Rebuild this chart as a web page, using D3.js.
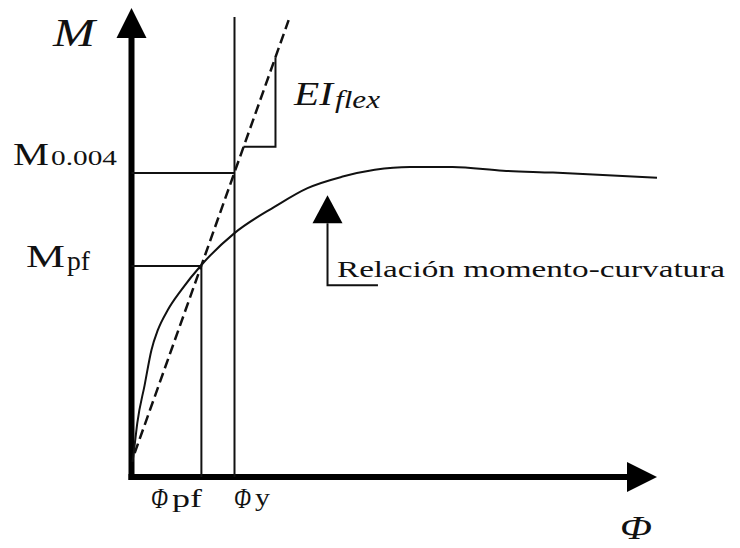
<!DOCTYPE html>
<html lang="es">
<head>
<meta charset="UTF-8">
<title>Relación momento-curvatura</title>
<style>
  body { margin: 0; background: #fff; }
  svg { display: block; }
</style>
</head>
<body>
<svg width="740" height="548"></svg>
<script src="https://cdn.jsdelivr.net/npm/d3@7"></script>
<script>
// curvatura (Φ) y momento (M) en unidades relativas 0..100
var curvePhi = [0.2, 0.6, 1.1, 2.5, 3.8, 5.0, 6.9, 9.5, 13.3, 19.6, 27.2, 33.5, 40.0, 46.3, 53.0, 61.1, 70.7, 80.2, 89.7, 100];
var curveM   = [3.2, 6.8, 11.5, 19.6, 27.1, 31.3, 35.6, 39.9, 45.2, 52.0, 57.6, 61.6, 64.0, 65.5, 66.1, 66.1, 65.3, 64.9, 64.4, 63.8];

var phiPf = 13.3, phiY = 19.6;
var mPf = 45.0, m004 = 64.8;
var phiYTop = 98.1;

// rigidez EIflex (recta secante)
var eiPhi = [0.6, 29.9];
var eiM   = [5.1, 97.4];

// triangulo de pendiente
var triPhi = [21.3, 27.4, 27.4];
var triM   = [70.4, 70.4, 89.5];

// flecha de la etiqueta
var notePhi = [37.3, 37.3, 46.9];
var noteM   = [60.1, 40.9, 40.9];

var svg = d3.select("svg");

var x = d3.scaleLinear().domain([0, 100]).range([131.5, 657]);
var y = d3.scaleLinear().domain([0, 100]).range([477, 8]);

var line = d3.line().x(function (d) { return x(d[0]); }).y(function (d) { return y(d[1]); });

// ejes
svg.append("line")
    .attr("x1", x(0)).attr("y1", y(0) + 3)
    .attr("x2", x(0)).attr("y2", y(100) + 28)
    .attr("stroke", "#000").attr("stroke-width", 6);
svg.append("path")
    .attr("d", "M" + x(0) + "," + y(100) + " L" + (x(0) - 15) + "," + (y(100) + 30) + " L" + (x(0) + 15) + "," + (y(100) + 30) + " Z")
    .attr("fill", "#000");

svg.append("line")
    .attr("x1", x(0) - 3).attr("y1", y(0))
    .attr("x2", x(100) - 28).attr("y2", y(0))
    .attr("stroke", "#000").attr("stroke-width", 6);
svg.append("path")
    .attr("d", "M" + x(100) + "," + y(0) + " L" + (x(100) - 30) + "," + (y(0) - 15) + " L" + (x(100) - 30) + "," + (y(0) + 15) + " Z")
    .attr("fill", "#000");

// lineas de referencia
var guides = [
    [[0, m004], [phiY, m004]],
    [[0, mPf], [phiPf, mPf]],
    [[phiPf, mPf], [phiPf, 0]],
    [[phiY, phiYTop], [phiY, 0]]
];
svg.selectAll(".guide")
    .data(guides)
    .enter()
    .append("path")
    .attr("class", "guide")
    .attr("d", line)
    .attr("fill", "none")
    .attr("stroke", "#111")
    .attr("stroke-width", 2);

// recta EIflex discontinua
svg.append("path")
    .datum(d3.zip(eiPhi, eiM))
    .attr("d", line)
    .attr("fill", "none")
    .attr("stroke", "#111")
    .attr("stroke-width", 2.5)
    .attr("stroke-dasharray", "10,5");

svg.append("path")
    .datum(d3.zip(triPhi, triM))
    .attr("d", line)
    .attr("fill", "none")
    .attr("stroke", "#111")
    .attr("stroke-width", 2);

// curva momento-curvatura
svg.append("path")
    .datum(d3.zip(curvePhi, curveM))
    .attr("d", d3.line().x(function (d) { return x(d[0]); }).y(function (d) { return y(d[1]); }).curve(d3.curveMonotoneX))
    .attr("fill", "none")
    .attr("stroke", "#111")
    .attr("stroke-width", 2);

// flecha de nota
svg.append("path")
    .datum(d3.zip(notePhi, noteM))
    .attr("d", function (d) { return line([[d[0][0], d[0][1] - 6], d[1], d[2]]); })
    .attr("fill", "none")
    .attr("stroke", "#111")
    .attr("stroke-width", 2);
var tip = [x(notePhi[0]), y(noteM[0])];
svg.append("path")
    .attr("d", "M" + tip[0] + "," + tip[1] + " L" + (tip[0] - 15) + "," + (tip[1] + 28) + " L" + (tip[0] + 15) + "," + (tip[1] + 28) + " Z")
    .attr("fill", "#000");

// textos
function label(t, px, py, size, width, italic) {
    var el = svg.append("text")
        .attr("x", px).attr("y", py)
        .attr("font-size", size)
        .attr("fill", "#111")
        .style("font-family", "'Liberation Serif'")
        .text(t);
    if (italic) el.style("font-style", "italic");
    if (width) el.attr("textLength", width).attr("lengthAdjust", "spacingAndGlyphs");
    return el;
}

label("M", 53, 46, 40, 42, true);

label("M", 13, 165, 32, 36);
label("0.004", 51, 165, 22, 66);

label("M", 26, 267, 31, 39);
label("pf", 67, 270, 27, 23);

label("EI", 294, 105, 34, 39, true);
label("flex", 335, 108, 25, 45, true);

label("Relación momento-curvatura", 337, 277, 24, 388);

label("Φ", 151, 508, 29, 17, true);
label("pf", 172, 507, 26, 30);

label("Φ", 234, 508, 29, 17, true);
label("y", 255, 506, 26, 15);

label("Φ", 620, 539, 34, 32, true);
</script>
</body>
</html>
